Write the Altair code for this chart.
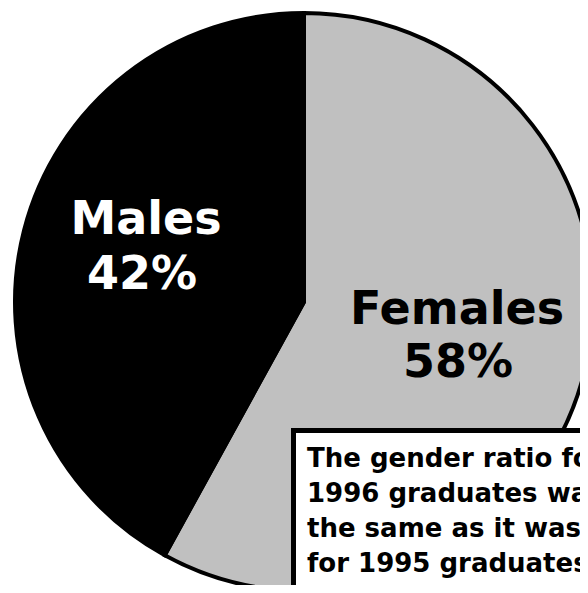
import altair as alt
import pandas as pd

categories = ["Females", "Males"]
values = [58, 42]
colors = ["#c0c0c0", "#000000"]
label_colors = ["#000000", "#ffffff"]
note_lines = [
    "The gender ratio for the",
    "1996 graduates was",
    "the same as it was",
    "for 1995 graduates,",
    "overall and by degree.",
]

df = pd.DataFrame({
    "category": categories,
    "value": values,
    "order": list(range(len(categories))),
    "pct": [f"{v}%" for v in values],
})

FONT = "DejaVu Sans"

pie = alt.Chart(df).mark_arc(
    outerRadius=289, stroke="#000000", strokeWidth=4, x=296, y=294
).encode(
    theta=alt.Theta("value:Q", stack=True),
    order=alt.Order("order:Q"),
    color=alt.Color("category:N", scale=alt.Scale(domain=categories, range=colors), legend=None),
)

def label(cat, x_name, x_pct, y_name, y_pct, color):
    base = alt.Chart(df).transform_filter(alt.datum.category == cat)
    name = base.mark_text(font=FONT, fontWeight="bold", fontSize=46, align="center",
                          baseline="alphabetic", color=color).encode(
        text="category:N", x=alt.value(x_name), y=alt.value(y_name))
    pct = base.mark_text(font=FONT, fontWeight="bold", fontSize=46, align="center",
                         baseline="alphabetic", color=color).encode(
        text="pct:N", x=alt.value(x_pct), y=alt.value(y_pct))
    return name + pct

males = label("Males", 138, 134, 226, 281, label_colors[1])
females = label("Females", 449, 450, 316, 369, label_colors[0])

box = alt.Chart(df).mark_rect(fill="#ffffff", stroke="#000000", strokeWidth=5).encode(
    x=alt.value(285.5), x2=alt.value(800), y=alt.value(422.5), y2=alt.value(800)
)

note_df = pd.DataFrame({"text": [note_lines]})
note = alt.Chart(note_df).mark_text(
    font=FONT, fontWeight="bold", fontSize=26, align="left", baseline="alphabetic",
    lineHeight=35, color="#000000"
).encode(text="text", x=alt.value(299), y=alt.value(459))

chart = alt.layer(pie, males, females, box, note).properties(
    width=572, height=577, padding=0, autosize=alt.AutoSizeParams(type="none"),
    background="#ffffff"
).configure_view(stroke=None)

chart.save("out.html", embed_options={"renderer": "svg", "actions": False})
